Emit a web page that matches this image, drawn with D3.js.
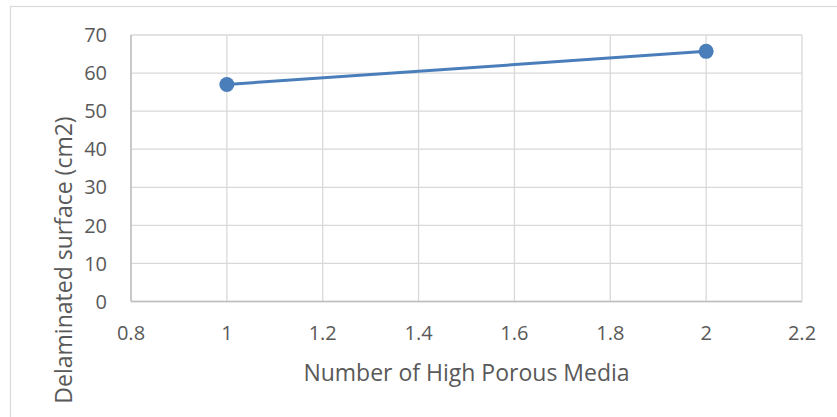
<!DOCTYPE html>
<html><head><meta charset="utf-8">
<script src="https://cdn.jsdelivr.net/npm/d3@7"></script>
<style>body{margin:0;background:#fff}svg{display:block}</style>
</head><body>
<svg id="c" width="837" height="417"></svg>
<script>
const xValues = [1, 2];
const yValues = [57, 65.7];
const xTicks = [0.8, 1, 1.2, 1.4, 1.6, 1.8, 2, 2.2];
const yTicks = [0, 10, 20, 30, 40, 50, 60, 70];
const xTitle = "Number of High Porous Media";
const yTitle = "Delaminated surface (cm2)";

const svg = d3.select("#c");
const font = "Open Sans, Noto Sans, sans-serif";
const textCol = "#595959";
const m = {l:131, r:802, t:35, b:301.5};
const x = d3.scaleLinear().domain([0.8, 2.2]).range([m.l, m.r]);
const y = d3.scaleLinear().domain([0, 70]).range([m.b, m.t]);

svg.append("rect").attr("x",10.5).attr("y",6.5).attr("width",840).attr("height",420)
  .attr("fill","none").attr("stroke","#d9d9d9").attr("stroke-width",1.2);

const g = svg.append("g");
g.selectAll(".hg").data(yTicks).join("line")
  .attr("x1",m.l).attr("x2",m.r).attr("y1",d=>y(d)).attr("y2",d=>y(d))
  .attr("stroke","#d9d9d9").attr("stroke-width",1.3);
g.selectAll(".vg").data(xTicks).join("line")
  .attr("y1",m.t).attr("y2",m.b).attr("x1",d=>x(d)).attr("x2",d=>x(d))
  .attr("stroke","#d9d9d9").attr("stroke-width",1.3);
g.append("line").attr("x1",m.l).attr("x2",m.r).attr("y1",m.b).attr("y2",m.b).attr("stroke","#bfbfbf").attr("stroke-width",1.5);
g.append("line").attr("x1",m.l).attr("x2",m.l).attr("y1",m.t).attr("y2",m.b).attr("stroke","#bfbfbf").attr("stroke-width",1.5);

g.selectAll(".yt").data(yTicks).join("text")
  .attr("x",107).attr("y",d=>y(d)).attr("dy","0.36em").attr("text-anchor","end")
  .attr("font-family",font).attr("font-size",20).attr("fill",textCol).text(d=>d);
g.selectAll(".xt").data(xTicks).join("text")
  .attr("x",d=>x(d)).attr("y",340).attr("text-anchor","middle")
  .attr("font-family",font).attr("font-size",20).attr("fill",textCol).text(d=>d);

svg.append("text").attr("x",(m.l+m.r)/2).attr("y",381).attr("text-anchor","middle")
  .attr("font-family",font).attr("font-size",23).attr("fill",textCol).text(xTitle);
svg.append("text").attr("transform","translate(72,260) rotate(-90)")
  .attr("text-anchor","middle")
  .attr("font-family",font).attr("font-size",23).attr("fill",textCol).text(yTitle);

const data = xValues.map((v,i)=>({x:v,y:yValues[i]}));
svg.append("path").datum(data)
  .attr("d", d3.line().x(d=>x(d.x)).y(d=>y(d.y)))
  .attr("fill","none").attr("stroke","#4a7ebb").attr("stroke-width",3);
svg.selectAll(".pt").data(data).join("circle")
  .attr("cx",d=>x(d.x)).attr("cy",d=>y(d.y)).attr("r",7.5).attr("fill","#4a7ebb");
</script>
</body></html>
